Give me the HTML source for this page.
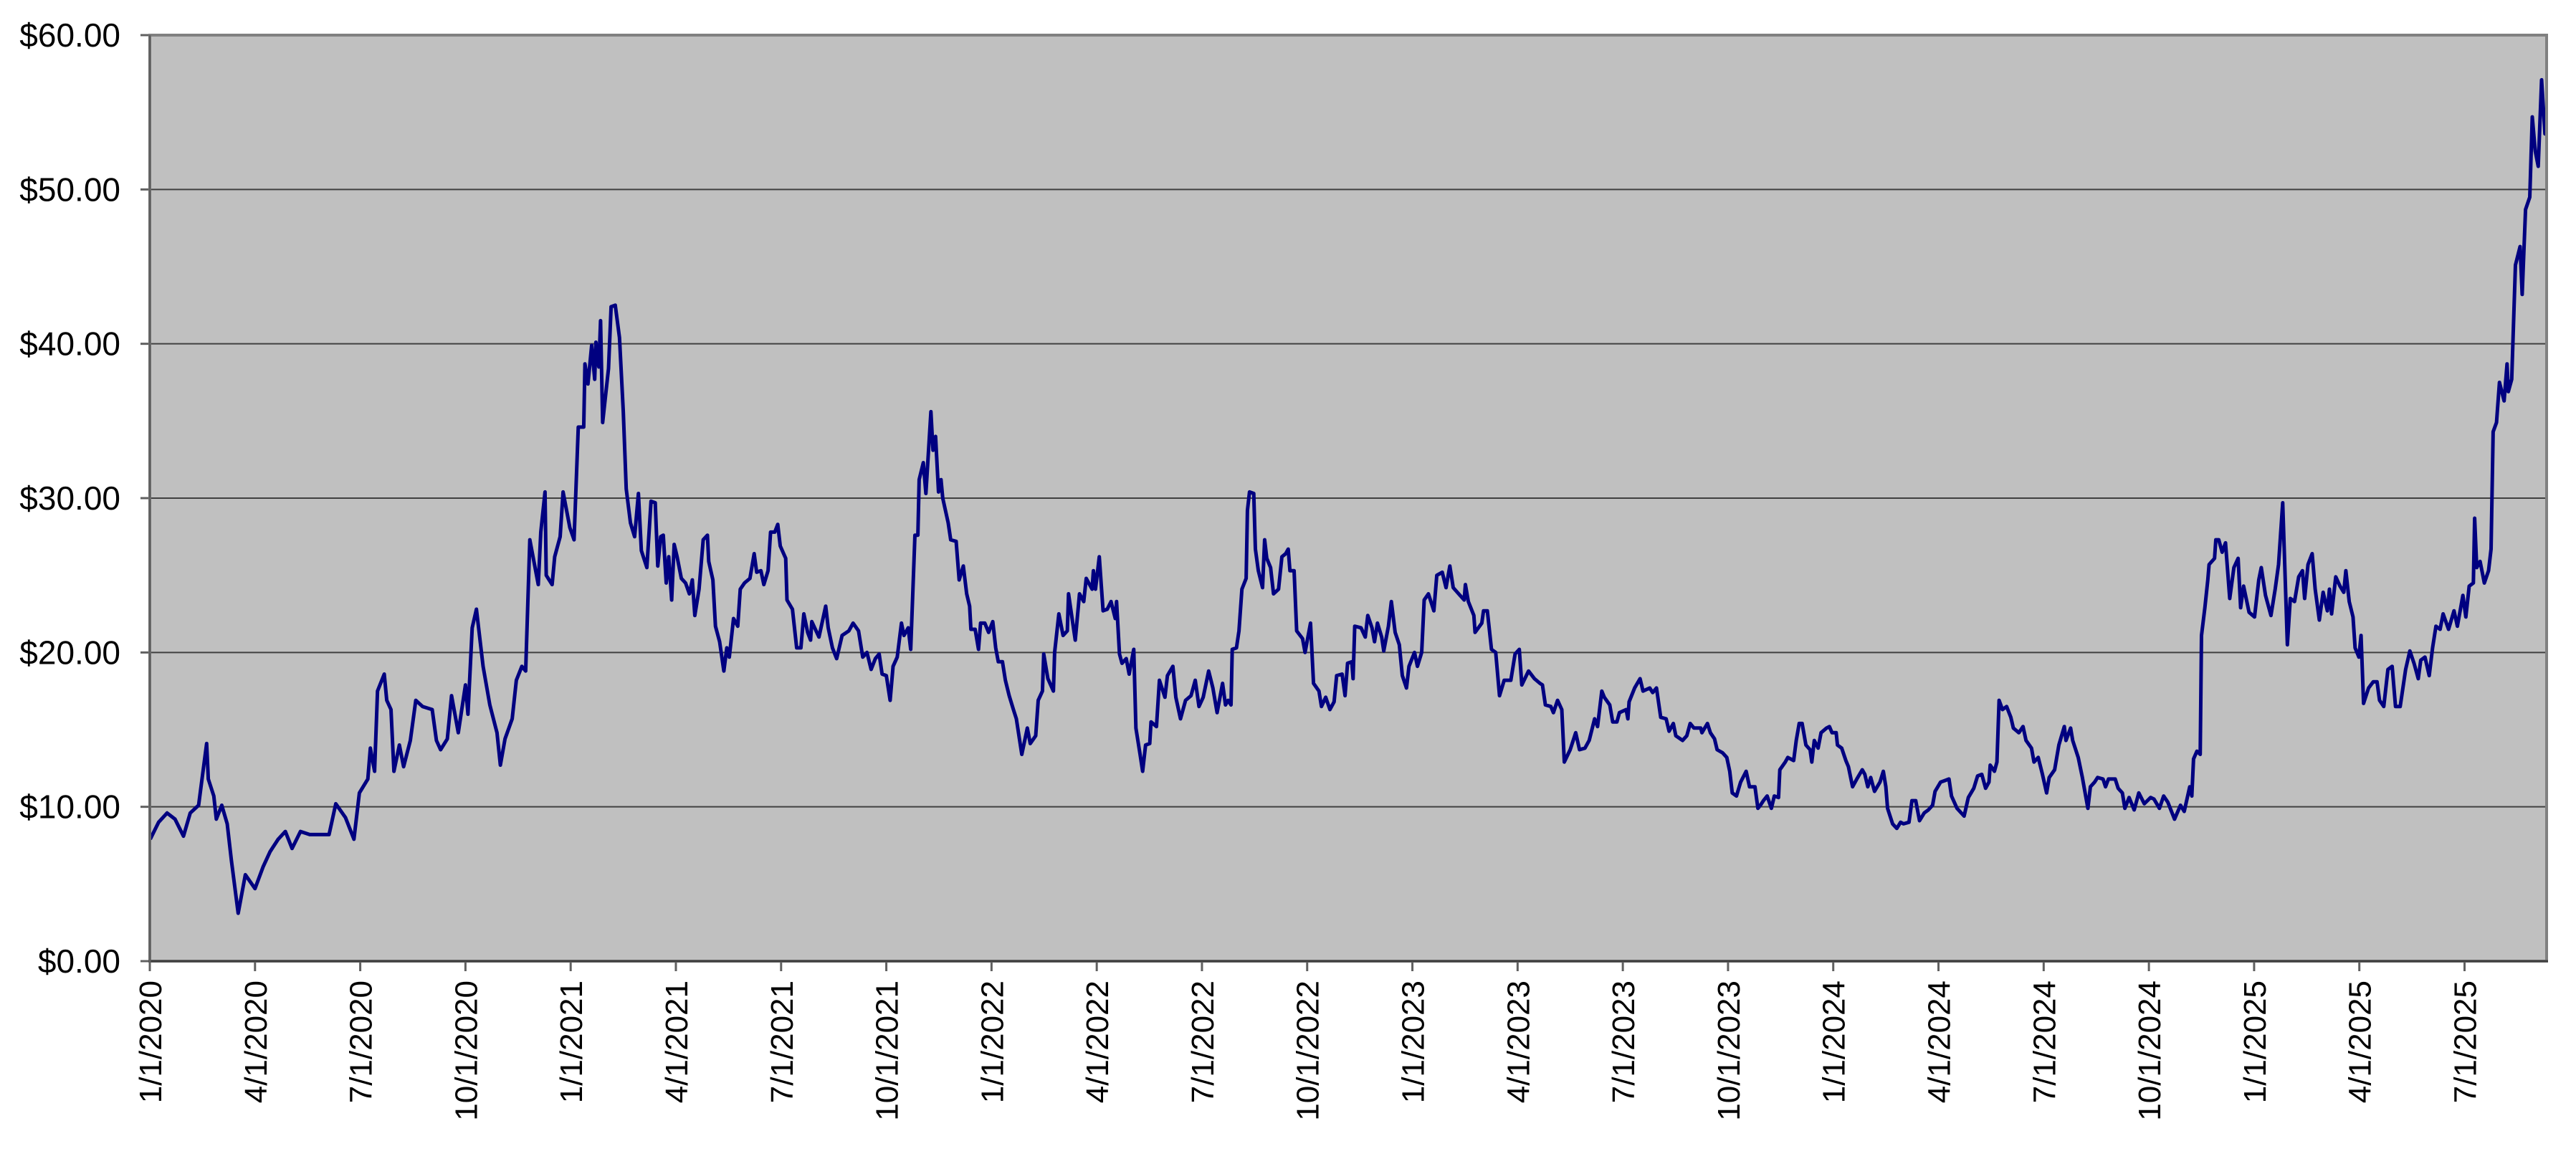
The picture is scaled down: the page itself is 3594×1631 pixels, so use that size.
<!DOCTYPE html>
<html><head><meta charset="utf-8"><style>
html,body{margin:0;padding:0;background:#fff;}
svg{display:block;}
text{font-family:"Liberation Sans",Arial,sans-serif;fill:#000;}
</style></head><body>
<svg id="chart" width="3594" height="1631" viewBox="0 0 3594 1631" xmlns="http://www.w3.org/2000/svg">
<rect x="209" y="49" width="3344" height="1292" fill="#c0c0c0"/>
<g id="grid"></g>
<g id="yaxis"></g>
<g id="xaxis"></g>
<path id="line" fill="none" stroke="#000080" stroke-width="5" stroke-linejoin="round"/>
<rect x="209" y="49" width="3344" height="1292" fill="none" stroke="#808080" stroke-width="4"/>
<line x1="207" y1="1341" x2="3555" y2="1341" stroke="#404040" stroke-width="3"/>
<line x1="209" y1="49" x2="209" y2="1343" stroke="#606060" stroke-width="3"/>
</svg>
<script>
const years = [2020.001,2020.021,2020.041,2020.060,2020.080,2020.096,2020.116,2020.135,2020.139,2020.152,2020.158,2020.171,2020.184,2020.194,2020.210,2020.227,2020.250,2020.269,2020.286,2020.305,2020.322,2020.338,2020.358,2020.380,2020.400,2020.426,2020.442,2020.465,2020.485,2020.498,2020.518,2020.524,2020.534,2020.541,2020.557,2020.563,2020.573,2020.580,2020.593,2020.603,2020.619,2020.632,2020.648,2020.671,2020.681,2020.691,2020.707,2020.717,2020.733,2020.750,2020.756,2020.766,2020.776,2020.792,2020.808,2020.825,2020.833,2020.844,2020.861,2020.871,2020.884,2020.893,2020.903,2020.923,2020.929,2020.939,2020.942,2020.956,2020.962,2020.975,2020.982,2020.998,
2021.008,2021.018,2021.031,2021.034,2021.041,2021.050,2021.057,2021.060,2021.067,2021.071,2021.076,2021.090,2021.096,2021.106,2021.116,2021.125,2021.132,2021.142,2021.152,2021.161,2021.168,2021.181,2021.191,2021.201,2021.207,2021.214,2021.220,2021.227,2021.233,2021.240,2021.246,2021.253,2021.263,2021.273,2021.282,2021.289,2021.295,2021.305,2021.315,2021.325,2021.328,2021.338,2021.344,2021.354,2021.364,2021.371,2021.377,2021.387,2021.397,2021.403,2021.413,2021.426,2021.436,2021.442,2021.452,2021.459,2021.469,2021.475,2021.485,2021.492,2021.498,2021.511,2021.514,2021.527,2021.537,2021.547,2021.554,2021.563,2021.570,2021.573,2021.590,2021.606,2021.612,2021.622,2021.632,2021.645,2021.661,2021.671,2021.684,2021.694,2021.704,2021.714,2021.724,2021.733,2021.740,2021.750,2021.759,2021.766,2021.776,2021.786,2021.792,2021.802,2021.808,2021.818,2021.825,2021.828,2021.838,2021.844,2021.856,2021.861,2021.867,2021.874,2021.880,2021.884,2021.897,2021.903,2021.916,2021.923,2021.933,2021.941,
2021.948,2021.951,2021.961,2021.969,2021.974,2021.984,2021.993,2022.003,2022.010,2022.016,2022.026,2022.033,2022.042,2022.052,2022.059,2022.072,2022.085,2022.092,2022.105,2022.111,2022.121,2022.124,2022.134,2022.147,2022.150,2022.160,2022.170,2022.180,2022.183,2022.193,2022.199,2022.209,2022.219,2022.225,2022.239,2022.242,2022.247,2022.256,2022.265,2022.275,2022.284,2022.294,2022.297,2022.304,2022.310,2022.320,2022.327,2022.338,2022.343,2022.353,2022.359,2022.366,2022.376,2022.379,2022.392,2022.399,2022.412,2022.418,2022.431,2022.438,2022.449,2022.461,2022.474,2022.484,2022.493,2022.503,2022.516,2022.526,2022.536,2022.549,2022.556,2022.562,2022.569,2022.572,2022.582,2022.588,2022.595,2022.605,2022.608,2022.613,2022.623,2022.627,2022.634,2022.644,2022.649,2022.654,2022.663,2022.670,2022.682,2022.690,2022.699,2022.705,2022.709,2022.719,2022.725,2022.739,2022.745,2022.758,2022.765,2022.778,2022.784,2022.794,2022.804,2022.814,2022.820,2022.833,2022.840,2022.846,2022.856,2022.859,2022.863,2022.878,
2022.888,2022.894,2022.904,2022.910,2022.917,2022.927,2022.932,2022.943,2022.950,2022.959,2022.969,2022.976,2022.986,2022.992,2023.005,2023.012,2023.022,2023.028,2023.038,2023.051,2023.058,2023.071,2023.080,2023.089,2023.097,2023.110,2023.123,2023.126,2023.133,2023.146,2023.149,2023.165,2023.169,2023.178,2023.188,2023.198,2023.207,2023.218,2023.234,2023.244,2023.254,2023.260,2023.276,2023.290,2023.303,2023.309,2023.316,2023.329,2023.335,2023.345,2023.355,2023.361,2023.375,2023.388,2023.397,2023.410,2023.420,2023.433,2023.440,2023.450,2023.456,2023.469,2023.476,2023.486,2023.492,2023.508,2023.512,2023.515,2023.528,2023.541,2023.548,2023.564,2023.571,2023.580,2023.590,2023.603,2023.610,2023.620,2023.626,2023.642,2023.652,2023.660,2023.669,2023.685,2023.688,2023.701,2023.708,2023.718,2023.724,2023.737,2023.747,2023.754,2023.760,2023.770,2023.780,2023.793,2023.801,2023.814,
2023.821,2023.827,2023.834,2023.843,2023.853,2023.860,2023.870,2023.873,2023.886,2023.892,2023.906,2023.912,2023.919,2023.926,2023.935,2023.945,2023.949,2023.955,2023.964,2023.971,2023.984,2023.991,2023.997,2024.007,2024.010,2024.020,2024.030,2024.036,2024.046,2024.056,2024.069,2024.075,2024.082,2024.089,2024.098,2024.111,2024.119,2024.125,2024.129,2024.141,2024.151,2024.160,2024.167,2024.180,2024.187,2024.196,2024.205,2024.216,2024.226,2024.236,2024.242,2024.255,2024.265,2024.275,2024.281,2024.294,2024.311,2024.321,2024.334,2024.343,2024.353,2024.362,2024.370,2024.373,2024.383,2024.389,2024.394,2024.402,2024.412,2024.422,2024.428,2024.441,2024.451,2024.458,2024.471,2024.477,2024.487,2024.497,2024.507,2024.513,2024.526,2024.536,2024.549,2024.553,2024.564,2024.569,2024.582,2024.592,2024.605,2024.611,2024.621,2024.628,2024.641,2024.647,2024.654,2024.670,2024.677,2024.687,2024.693,2024.703,2024.715,2024.726,2024.739,2024.754,
2024.762,2024.775,2024.785,2024.795,2024.811,2024.825,2024.834,2024.847,2024.852,2024.856,2024.864,2024.872,2024.875,2024.883,2024.890,2024.893,2024.906,2024.909,2024.916,2024.924,2024.932,2024.942,2024.952,2024.962,2024.968,2024.975,2024.988,2025.001,2025.011,2025.017,2025.027,2025.040,2025.050,2025.058,2025.068,2025.079,2025.086,2025.096,2025.106,2025.115,2025.120,2025.128,2025.138,2025.145,2025.155,2025.164,2025.174,2025.179,2025.184,2025.194,2025.204,2025.213,2025.218,2025.226,2025.235,2025.240,2025.249,2025.254,2025.260,2025.272,2025.283,2025.292,2025.298,2025.308,2025.318,2025.328,2025.336,2025.347,2025.360,2025.370,2025.380,2025.390,2025.396,2025.406,2025.416,2025.424,2025.432,2025.442,2025.449,2025.462,2025.475,2025.483,2025.496,2025.503,2025.511,2025.521,2025.524,2025.529,2025.537,2025.547,2025.557,2025.563,2025.568,2025.576,2025.583,2025.594,2025.601,2025.604,2025.612,2025.621,2025.632,2025.637,2025.645,2025.655,2025.661,2025.668,2025.675,2025.683,2025.691,2025.694];
const prices = [7.9,9.0,9.6,9.2,8.1,9.6,10.1,14.1,11.8,10.7,9.2,10.1,8.9,6.5,3.1,5.6,4.7,6.1,7.1,7.9,8.4,7.3,8.4,8.2,8.2,8.2,10.2,9.3,7.9,10.9,11.8,13.8,12.3,17.5,18.6,16.9,16.3,12.3,14.0,12.6,14.3,16.9,16.5,16.3,14.3,13.7,14.4,17.2,14.8,17.9,16.0,21.6,22.8,19.1,16.6,14.8,12.7,14.4,15.7,18.2,19.1,18.8,27.3,24.4,27.8,30.4,25.0,24.4,26.2,27.5,30.4,28.1,
27.3,34.6,34.6,38.7,37.4,39.9,37.7,40.1,38.5,41.5,34.9,38.4,42.4,42.5,40.4,35.6,30.6,28.4,27.5,30.3,26.6,25.5,29.8,29.7,25.6,27.5,27.6,24.5,26.2,23.4,27.0,26.2,24.8,24.5,23.8,24.7,22.4,24.1,27.3,27.6,25.9,24.7,21.7,20.7,18.8,20.3,19.7,22.2,21.7,24.1,24.5,24.8,26.4,25.2,25.3,24.4,25.3,27.8,27.8,28.3,26.9,26.1,23.4,22.8,20.3,20.3,22.5,21.3,20.8,22.0,21.0,23.0,21.6,20.3,19.6,21.1,21.4,21.9,21.4,19.7,20.0,18.9,19.6,19.9,18.6,18.5,16.9,19.1,19.7,21.9,21.1,21.6,20.2,27.6,27.6,31.2,32.3,30.3,35.6,33.1,34.0,30.4,31.2,30.0,28.4,27.3,27.2,24.7,25.6,23.8,
23.0,21.5,21.5,20.2,21.9,21.9,21.3,22.0,20.3,19.4,19.4,18.2,17.2,16.3,15.7,13.4,15.1,14.1,14.6,16.9,17.5,19.9,18.3,17.5,20.0,22.5,21.1,21.4,23.8,21.9,20.8,23.8,23.3,24.8,24.1,25.3,24.1,26.2,22.7,22.8,23.3,22.2,23.3,19.9,19.3,19.6,18.6,20.2,15.1,13.4,12.3,14.0,14.1,15.5,15.2,18.2,17.1,18.5,19.1,17.1,15.7,16.9,17.2,18.2,16.5,17.1,18.8,17.7,16.1,18.0,16.6,16.9,16.6,20.2,20.3,21.4,24.1,24.8,29.2,30.4,30.3,26.7,25.3,24.2,27.3,26.1,25.5,23.8,24.1,26.2,26.4,26.7,25.3,25.3,21.4,20.9,20.0,21.9,18.0,17.5,16.5,17.1,16.3,16.8,18.5,18.6,17.2,19.3,19.4,18.3,21.7,21.6,
21.0,22.4,21.6,20.7,21.9,21.0,20.1,21.7,23.3,21.3,20.5,18.5,17.7,19.1,20.0,19.1,20.0,23.4,23.8,22.7,25.0,25.2,24.2,25.6,24.2,23.8,23.4,24.4,23.3,22.4,21.3,21.9,22.7,22.7,20.2,20.0,17.2,18.2,18.2,19.9,20.2,17.9,18.8,18.3,18.0,17.9,16.6,16.5,16.1,16.9,16.3,12.9,13.7,14.8,13.7,13.8,14.3,15.7,15.2,17.5,17.1,16.6,15.5,15.5,16.1,16.3,15.7,16.8,17.7,18.3,17.5,17.7,17.4,17.7,15.8,15.7,14.9,15.4,14.6,14.3,14.6,15.4,15.1,15.1,14.8,15.4,14.8,14.4,13.7,13.5,13.2,12.3,10.9,10.7,11.6,12.3,11.3,11.3,
9.9,10.1,10.4,10.7,9.9,10.7,10.6,12.4,12.9,13.2,13.0,14.3,15.4,15.4,14.0,13.7,12.9,14.3,13.8,14.8,15.1,15.2,14.8,14.8,14.0,13.8,13.0,12.6,11.3,11.8,12.4,12.1,11.3,11.9,11.0,11.6,12.3,11.3,9.9,8.9,8.6,9.0,8.9,9.0,10.4,10.4,9.1,9.6,9.8,10.1,11.0,11.6,11.7,11.8,10.7,9.9,9.4,10.6,11.2,12.0,12.1,11.2,11.6,12.7,12.3,12.9,16.9,16.3,16.5,15.8,15.1,14.8,15.2,14.3,13.8,12.9,13.2,12.1,10.9,11.9,12.4,14.0,15.2,14.3,15.1,14.3,13.2,11.9,9.9,11.3,11.6,11.9,11.8,11.3,11.8,11.8,11.2,10.9,9.9,10.6,9.8,10.9,10.2,10.6,
10.5,9.9,10.7,10.3,9.2,10.1,9.7,11.3,10.7,13.1,13.6,13.4,21.1,22.9,24.7,25.7,26.1,27.3,27.3,26.5,27.1,23.5,25.5,26.1,22.9,24.3,22.6,22.3,24.7,25.5,23.7,22.4,24.1,25.7,29.7,20.5,23.5,23.3,24.9,25.3,23.5,25.7,26.4,24.1,22.1,23.9,22.7,24.1,22.5,24.9,24.3,23.9,25.3,23.3,22.3,20.3,19.7,21.1,16.7,17.7,18.1,18.1,16.9,16.5,18.9,19.1,16.5,16.5,18.9,20.1,19.3,18.3,19.5,19.7,18.5,20.3,21.7,21.5,22.5,21.5,22.7,21.7,23.7,22.3,24.3,24.5,28.7,25.5,25.9,24.5,25.3,26.7,34.3,34.9,37.5,36.3,38.7,36.9,37.7,45.1,46.3,43.2,48.7,49.5,54.7,52.5,51.5,57.1,53.6,54.9];
const yTicks = [0,10,20,30,40,50,60];
const yTickLabels = ["$0.00","$10.00","$20.00","$30.00","$40.00","$50.00","$60.00"];
const xTicks = [2020,2020.25,2020.5,2020.75,2021,2021.25,2021.5,2021.75,2022,2022.25,2022.5,2022.75,2023,2023.25,2023.5,2023.75,2024,2024.25,2024.5,2024.75,2025,2025.25,2025.5];
const xTickLabels = ["1/1/2020","4/1/2020","7/1/2020","10/1/2020","1/1/2021","4/1/2021","7/1/2021","10/1/2021","1/1/2022","4/1/2022","7/1/2022","10/1/2022","1/1/2023","4/1/2023","7/1/2023","10/1/2023","1/1/2024","4/1/2024","7/1/2024","10/1/2024","1/1/2025","4/1/2025","7/1/2025"];

const X0=209,X1=3553,Y0=1341,Y1=49,XMIN=2020,XMAX=2025.695,YMIN=0,YMAX=60;
function xs(t){return X0+(t-XMIN)/(XMAX-XMIN)*(X1-X0);}
function ys(v){return Y0-(v-YMIN)/(YMAX-YMIN)*(Y0-Y1);}
const NS="http://www.w3.org/2000/svg";
const grid=document.getElementById('grid'),ya=document.getElementById('yaxis'),xa=document.getElementById('xaxis');
yTicks.forEach((v,i)=>{
  const y=ys(v);
  if(v>YMIN&&v<YMAX){
    const g=document.createElementNS(NS,'line');
    
    
    g.setAttribute('x1',X0);g.setAttribute('x2',X1);g.setAttribute('y1',y);g.setAttribute('y2',y);
    g.setAttribute('stroke','#404040');g.setAttribute('stroke-width','2');
    grid.appendChild(g);
  }
  const tk=document.createElementNS(NS,'line');
  
  
  tk.setAttribute('x1',196);tk.setAttribute('x2',X0);tk.setAttribute('y1',y);tk.setAttribute('y2',y);
  tk.setAttribute('stroke','#606060');tk.setAttribute('stroke-width','3');
  ya.appendChild(tk);
  const t=document.createElementNS(NS,'text');
  
  
  t.setAttribute('x',168);t.setAttribute('y',y+16);t.setAttribute('text-anchor','end');t.setAttribute('font-size','46');
  t.textContent=yTickLabels[i];
  ya.appendChild(t);
});
xTicks.forEach((v,i)=>{
  const x=xs(v);
  const tk=document.createElementNS(NS,'line');
  
  
  tk.setAttribute('x1',x);tk.setAttribute('x2',x);tk.setAttribute('y1',Y0);tk.setAttribute('y2',Y0+14);
  tk.setAttribute('stroke','#606060');tk.setAttribute('stroke-width','3');
  xa.appendChild(tk);
  const t=document.createElementNS(NS,'text');
  
  
  t.setAttribute('transform','translate('+(x+16)+',1368) rotate(-90)');
  t.setAttribute('text-anchor','end');t.setAttribute('font-size','44');
  t.textContent=xTickLabels[i];
  xa.appendChild(t);
});
let d='';
years.forEach((t,i)=>{d+=(i?'L':'M')+xs(t).toFixed(1)+' '+ys(prices[i]).toFixed(1);});
document.getElementById('line').setAttribute('d',d);
</script>
</body></html>
